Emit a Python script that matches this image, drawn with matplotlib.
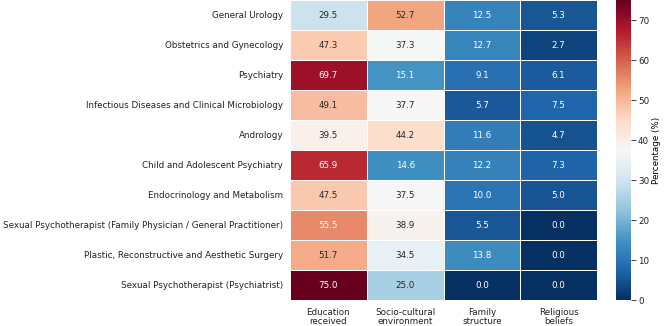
import numpy as np
import pandas as pd
import seaborn as sns
from matplotlib import pyplot as plt

specialties = [
    "General Urology",
    "Obstetrics and Gynecology",
    "Psychiatry",
    "Infectious Diseases and Clinical Microbiology",
    "Andrology",
    "Child and Adolescent Psychiatry",
    "Endocrinology and Metabolism",
    "Sexual Psychotherapist (Family Physician / General Practitioner)",
    "Plastic, Reconstructive and Aesthetic Surgery",
    "Sexual Psychotherapist (Psychiatrist)",
]
factors = ["Education\nreceived", "Socio-cultural\nenvironment", "Family\nstructure", "Religious\nbeliefs"]

education = [29.5, 47.3, 69.7, 49.1, 39.5, 65.9, 47.5, 55.5, 51.7, 75.0]
socio_cultural = [52.7, 37.3, 15.1, 37.7, 44.2, 14.6, 37.5, 38.9, 34.5, 25.0]
family = [12.5, 12.7, 9.1, 5.7, 11.6, 12.2, 10.0, 5.5, 13.8, 0.0]
religious = [5.3, 2.7, 6.1, 7.5, 4.7, 7.3, 5.0, 0.0, 0.0, 0.0]

df = pd.DataFrame(
    np.column_stack([education, socio_cultural, family, religious]),
    index=specialties,
    columns=factors,
)

W, H = 666, 326
fs = 6.3

fig = plt.figure(figsize=(W / 100, H / 100), dpi=100)
ax = fig.add_axes([290 / W, 26 / H, 307 / W, 300 / H])
cax = fig.add_axes([616 / W, 26 / H, 15 / W, 300 / H])

sns.heatmap(
    df,
    ax=ax,
    cbar_ax=cax,
    cmap="RdBu_r",
    annot=True,
    fmt=".1f",
    linewidths=0.6,
    linecolor="white",
    annot_kws={"fontsize": fs},
    cbar_kws={"label": "Percentage (%)"},
)

ax.tick_params(axis="y", length=0, pad=5, labelsize=fs, colors="#222222")
ax.tick_params(axis="x", length=0, pad=5.5, labelsize=fs, colors="#222222")
ax.set_yticklabels(ax.get_yticklabels(), rotation=0)
ax.set_xticklabels(ax.get_xticklabels(), rotation=0, linespacing=1.1)
ax.set_xlabel("")
ax.set_ylabel("")

cax.tick_params(labelsize=fs, length=3.5, width=0.6, pad=1.5, colors="#222222")
cax.yaxis.label.set_size(fs)
cax.yaxis.labelpad = 2
for s in cax.spines.values():
    s.set_visible(False)

fig.savefig("out.png", dpi=100)
